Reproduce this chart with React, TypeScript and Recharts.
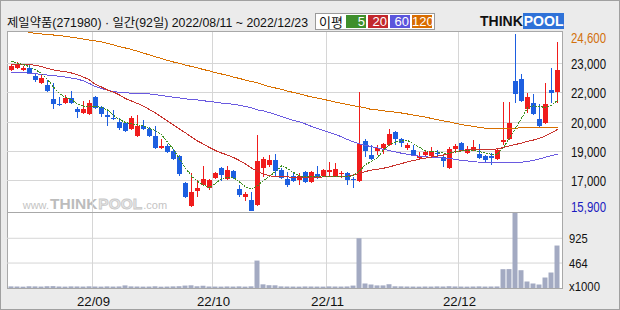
import React from "react";
import { ComposedChart, Bar, Line, XAxis, YAxis, CartesianGrid } from "recharts";

// 일봉 시가/고가/저가/종가 (2022/08/11 ~ 2022/12/23, 92 거래일)
const openPrices = [
  22850, 22950, 22850, 22950, 22550, 22200, 22100, 21400, 21150, 21200,
  21450, 20900, 20700, 20650, 21500, 21000, 20600, 20450, 20250, 20200,
  19900, 19600, 20050, 19900, 19600, 19000, 19100, 18850, 18600, 17250,
  16150, 16850, 17150, 17000, 17500, 18000, 17450, 17850, 16950, 16550,
  16450, 16200, 18000, 18150, 18400, 17900, 17450, 17600, 17400, 17800,
  17300, 17700, 17600, 17800, 17600, 17700, 17750, 17450, 17350, 19350,
  18650, 18850, 19000, 19150, 19750, 19450, 19000, 18900, 18500, 18650,
  18600, 18750, 18550, 18000, 18950, 19250, 18750, 18950, 18700, 18600,
  18600, 18450, 19300, 19450, 22300, 22400, 20900, 21200, 20400, 20200,
  21850, 21750,
];
const highPrices = [
  23100, 23200, 23000, 23100, 22650, 22600, 22350, 22200, 21500, 21600,
  21800, 21000, 21300, 21350, 21550, 21050, 20850, 20850, 20450, 20250,
  20550, 20600, 20350, 20000, 20050, 19450, 19200, 18950, 18650, 17300,
  17750, 17400, 18100, 17450, 17800, 18050, 18100, 17900, 17150, 16800,
  16800, 19650, 18550, 18650, 18700, 18000, 17800, 17800, 17750, 17850,
  17850, 18100, 17950, 18300, 18250, 17850, 17800, 17550, 21750, 19450,
  19150, 19150, 19250, 19900, 19800, 19500, 19250, 19150, 18800, 18900,
  19050, 18900, 18650, 19050, 19200, 19300, 19100, 19400, 19200, 18650,
  18750, 19000, 21250, 21250, 24600, 22650, 21700, 21650, 21150, 22200,
  22950, 24200,
];
const lowPrices = [
  22800, 22900, 22800, 22650, 22250, 22150, 21750, 20900, 21050, 21150,
  21150, 20450, 20650, 20600, 20900, 20500, 20050, 20350, 19850, 19750,
  19850, 19550, 19850, 19550, 18950, 18950, 18750, 18400, 17600, 16500,
  16100, 16550, 17100, 16900, 17450, 17350, 17400, 17450, 16550, 16400,
  15900, 16150, 17550, 18050, 17550, 17450, 17050, 17300, 17150, 17250,
  17250, 17450, 17550, 17550, 17550, 17500, 17150, 17000, 17300, 18550,
  18400, 18650, 18700, 19100, 19150, 19050, 18900, 18600, 18450, 18600,
  18550, 18600, 18050, 17950, 18750, 18850, 18700, 18850, 18450, 18250,
  18150, 18400, 19150, 19400, 21200, 21250, 20700, 20600, 20000, 20150,
  21200, 21200,
];
const closePrices = [
  23000, 23100, 22950, 22700, 22350, 22450, 21800, 21150, 21100, 21450,
  21200, 20750, 20900, 21200, 20950, 20650, 20500, 20400, 19950, 19800,
  20450, 20050, 19900, 19600, 19000, 19100, 18800, 18450, 17700, 16550,
  16800, 17000, 17450, 17400, 17750, 17650, 17900, 17500, 16650, 16700,
  15900, 18350, 18450, 18400, 17850, 17500, 17150, 17350, 17600, 17300,
  17800, 17500, 17900, 17900, 17950, 17750, 17400, 17400, 19200, 18850,
  18450, 19000, 19200, 19700, 19450, 19250, 19150, 18650, 18600, 18800,
  18850, 18700, 18350, 18950, 19100, 18900, 18950, 19050, 18500, 18400,
  18500, 18900, 19400, 20200, 21650, 21300, 21500, 20650, 20050, 21150,
  21700, 22850,
];
// 거래량 (천주)
const volumes = [
  30, 28, 25, 32, 30, 27, 33, 35, 28, 26, 30, 29, 27, 31, 28, 26, 30, 27, 29,
  48, 30, 28, 26, 27, 32, 25, 27, 30, 33,
  45, 50, 32, 42, 28, 27, 26, 29, 27, 30, 26, 31,
  510, 68, 52, 50,
  30, 28, 27, 26, 29, 28, 27, 26, 30, 28, 27, 29,
  45, 926, 84, 65, 48, 48, 70,
  32, 30, 28, 27, 26, 28, 27, 30, 28, 33, 29, 27, 26, 28, 30, 27, 28, 29,
  350, 352, 1395, 331, 121, 84, 65, 195, 288, 790,
];
// 이동평균
const ma5 = [
  23250, 23170, 23090, 22990, 22840, 22660, 22360, 21990, 21670, 21470,
  21380, 21150, 21050, 21030, 21050, 20980, 20860, 20590, 20390, 20240,
  20180, 20140, 20060, 19950, 19850, 19650, 19280, 18910, 18450, 18000,
  17610, 17340, 17160, 17040, 17240, 17480, 17560, 17530, 17310, 17070,
  16970, 17120, 17390, 17580, 17830, 18100, 17980, 17780, 17610, 17570,
  17570, 17570, 17570, 17580, 17590, 17590, 17580, 17630, 17850, 18170,
  18320, 18520, 18890, 19160, 19270, 19340, 19360, 19190, 19010, 18850,
  18790, 18790, 18740, 18740, 18800, 18840, 18860, 18880, 18810, 18730,
  18680, 18690, 19010, 19480, 19950, 20440, 20960, 21060, 21020, 20990,
  21100, 21330,
];
const ma20 = [
  23110, 23110, 23100, 23090, 23060, 23000, 22900, 22830, 22780, 22740,
  22680, 22590, 22480, 22340, 22110, 21990, 21840, 21740, 21600, 21420,
  21300, 21180, 21050, 20880, 20710, 20510, 20320, 20120, 19920, 19730,
  19530, 19330, 19180, 19010, 18860, 18740, 18640, 18520, 18370, 18200,
  18000, 17830, 17710, 17620, 17570, 17560, 17560, 17550, 17550, 17540,
  17540, 17550, 17560, 17570, 17570, 17580, 17600, 17660, 17740, 17830,
  17900, 17940, 17990, 18060, 18140, 18220, 18300, 18370, 18440, 18490,
  18540, 18590, 18640, 18710, 18810, 18860, 18890, 18910, 18920, 18920,
  18930, 18940, 19010, 19090, 19160, 19230, 19310, 19380, 19460, 19580,
  19730, 19900,
];
const ma60 = [
  22720, 22710, 22690, 22670, 22640, 22610, 22580, 22550, 22520, 22480,
  22430, 22380, 22290, 22160, 22010, 21920, 21830, 21770, 21730, 21700,
  21690, 21680, 21670, 21650, 21610, 21570, 21530, 21490, 21450, 21410,
  21370, 21350, 21310, 21280, 21240, 21200, 21170, 21140, 21090, 21030,
  20960, 20860, 20810, 20730, 20640, 20540, 20440, 20340, 20270, 20170,
  20050, 19950, 19850, 19750, 19650, 19540, 19400, 19290, 19190, 19120,
  19050, 18990, 18920, 18860, 18790, 18730, 18680, 18620, 18580, 18550,
  18530, 18510, 18490, 18470, 18420, 18380, 18350, 18310, 18290, 18270,
  18260, 18250, 18250, 18250, 18260, 18290, 18320, 18380, 18450, 18530,
  18610, 18690,
];
const ma120 = [
  24850, 24800, 24750, 24680, 24620, 24600, 24580, 24550, 24520, 24490,
  24440, 24400, 24350, 24300, 24260, 24210, 24140, 24060, 23980, 23910,
  23840, 23750, 23660, 23570, 23480, 23390, 23300, 23220, 23150, 23070,
  23000, 22930, 22850, 22780, 22700, 22630, 22560, 22480, 22410, 22330,
  22260, 22190, 22090, 22010, 21940, 21870, 21790, 21720, 21650, 21570,
  21500, 21440, 21380, 21320, 21250, 21190, 21130, 21070, 21020, 20960,
  20880, 20860, 20820, 20780, 20750, 20710, 20660, 20610, 20560, 20510,
  20440, 20380, 20320, 20270, 20200, 20140, 20090, 20050, 20000, 19960,
  19950, 19950, 19950, 19950, 19950, 20000, 20000, 20000, 20000, 20000,
  20000, 20000,
];

const monthStarts = [14, 34, 53, 75];
const monthLabels = ["22/09", "22/10", "22/11", "22/12"];
const priceGridValues = [23147, 21719, 20242, 18814, 17386];
const priceGridLabels = ["23,000", "22,000", "20,000", "19,000", "17,000"];
const priceMax = 24600;
const priceMin = 15900;
const volumeGridValues = [464, 925];
const volumeLabels = ["x1000", "464", "925"];
const legendItems = [
  { label: "5", color: "#3f8f2c" },
  { label: "20", color: "#c2282c" },
  { label: "60", color: "#5b55dc" },
  { label: "120", color: "#d86c00" },
];

const RED = "#f01c1c";
const BLUE = "#1d5fe0";
const GRID = "#d6d6d6";
const TICK_FONT = "'Liberation Sans', Arial, sans-serif";
const X_DOMAIN = [-0.75, 91.75];

const rows = closePrices.map((close, i) => ({
  i,
  open: openPrices[i],
  high: highPrices[i],
  low: lowPrices[i],
  close,
  vol: volumes[i],
  ma5: ma5[i],
  ma20: ma20[i],
  ma60: ma60[i],
  ma120: ma120[i],
}));

const monthTicks = monthStarts.map((m) => m - 0.5);
const priceTicks = [priceMax, ...priceGridValues, priceMin];
const priceLabels = ["24,600", ...priceGridLabels, "15,900"];
const volumeTicks = [0, ...volumeGridValues];

// 캔들 하나: 막대의 [저가, 고가] 범위로 위치를 받아 몸통/꼬리를 그림
function Candle(props: any) {
  const { x, y, width, height, payload } = props;
  if (x == null || payload == null) return null;
  const top = Math.min(y, y + height);
  const bottom = Math.max(y, y + height);
  const range = payload.high - payload.low || 1;
  const at = (v: number) => top + ((payload.high - v) / range) * (bottom - top);
  const color = payload.close >= payload.open ? RED : BLUE;
  const cx = Math.floor(x + width / 2);
  const bodyTop = Math.round(at(Math.max(payload.open, payload.close)));
  let bodyBottom = Math.round(at(Math.min(payload.open, payload.close)));
  if (bodyBottom - bodyTop < 1) bodyBottom = bodyTop + 1;
  return (
    <g>
      <rect x={cx} y={Math.round(top)} width={1} height={Math.max(1, Math.round(bottom) - Math.round(top))} fill={color} />
      <rect x={cx - 2} y={bodyTop} width={5} height={bodyBottom - bodyTop} fill={color} />
    </g>
  );
}

function PriceTick(props: any) {
  const { x, y, payload } = props;
  const k = priceTicks.indexOf(payload.value);
  const last = priceTicks.length - 1;
  const shift = k === 0 ? 4 : k === last ? -4 : 0;
  const color = k === 0 ? "#d2700c" : k === last ? "#1a1ac0" : "#111";
  return (
    <text x={x + 9} y={y + shift} dy="0.36em" textAnchor="start" fill={color} fontSize={14} fontFamily={TICK_FONT}
      textLength={35} lengthAdjust="spacingAndGlyphs">
      {priceLabels[k]}
    </text>
  );
}

function VolumeTick(props: any) {
  const { x, y, payload } = props;
  const k = volumeTicks.indexOf(payload.value);
  const label = volumeLabels[k];
  return (
    <text x={x + 7} y={y + (k === 0 ? -2 : 0)} dy="0.36em" textAnchor="start" fill="#111" fontSize={13} fontFamily={TICK_FONT}
      textLength={label.length * 6.2} lengthAdjust="spacingAndGlyphs">
      {label}
    </text>
  );
}

function MonthTick(props: any) {
  const { x, y, payload } = props;
  const k = monthTicks.indexOf(payload.value);
  return (
    <text x={x + 1} y={y + 13} dy="0.36em" textAnchor="middle" fill="#111" fontSize={13} fontFamily={TICK_FONT}
      textLength={33} lengthAdjust="spacingAndGlyphs">
      {monthLabels[k]}
    </text>
  );
}

const abs = (left: number, top: number): React.CSSProperties => ({ position: "absolute", left, top });

export default function App() {
  return (
    <div style={{ position: "absolute", left: 0, top: 0, width: 620, height: 310, background: "#ebebeb", overflow: "hidden" }}>
      {/* 차트 영역 바탕 */}
      <div style={{ ...abs(7, 31), width: 556, height: 258, background: "#fff", border: "1px solid #a8a8a8", boxSizing: "border-box" }} />

      {/* 워터마크 */}
      <svg width={620} height={310} style={abs(0, 0)}>
        <text x={22.7} y={209} fontFamily="'Liberation Sans', Arial">
          <tspan fontSize={11} fill="#c4c4c4">www.</tspan>
          <tspan fontSize={15.5} fontWeight="bold" fill="#bcbcbc" dx={1}>THINK</tspan>
          <tspan fontSize={15.5} fontWeight="bold" fill="#e6e6e6" stroke="#c8c8c8" strokeWidth={0.8} dx={1}>POOL</tspan>
          <tspan fontSize={11} fill="#c4c4c4" dx={1}>.com</tspan>
        </text>
      </svg>

      {/* 거래량 */}
      <div style={abs(0, 0)}>
        <ComposedChart width={620} height={310} data={rows} margin={{ top: 213, right: 0, bottom: 0, left: 7 }}>
          <CartesianGrid stroke={GRID} horizontalValues={volumeGridValues} verticalValues={monthTicks} />
          <XAxis dataKey="i" type="number" domain={X_DOMAIN} allowDataOverflow ticks={monthTicks} interval={0} height={22}
            axisLine={false} tickLine={false} tickSize={0} tickMargin={0} tick={MonthTick} />
          <YAxis orientation="right" width={58} domain={[0, 1395]} allowDataOverflow ticks={volumeTicks} interval={0}
            axisLine={false} tickLine={false} tickSize={0} tickMargin={0} tick={VolumeTick} />
          <Bar dataKey="vol" barSize={5} fill="#a3aac2" isAnimationActive={false} />
        </ComposedChart>
      </div>

      {/* 가격 */}
      <div style={abs(0, 0)}>
        <ComposedChart width={620} height={230} data={rows} margin={{ top: 32, right: 0, bottom: 18, left: 7 }}>
          <CartesianGrid stroke={GRID} horizontalValues={priceGridValues} verticalValues={monthTicks} />
          <XAxis dataKey="i" type="number" domain={X_DOMAIN} allowDataOverflow hide />
          <YAxis orientation="right" width={58} domain={[15835, 24698]} allowDataOverflow ticks={priceTicks} interval={0}
            axisLine={false} tickLine={false} tickSize={0} tickMargin={0} tick={PriceTick} />
          <Line dataKey="ma120" stroke="#d87000" strokeWidth={1} dot={false} activeDot={false} isAnimationActive={false} shapeRendering="crispEdges" />
          <Line dataKey="ma60" stroke="#6a5ae0" strokeWidth={1} dot={false} activeDot={false} isAnimationActive={false} shapeRendering="crispEdges" />
          <Line dataKey="ma20" stroke="#c8342e" strokeWidth={1} dot={false} activeDot={false} isAnimationActive={false} shapeRendering="crispEdges" />
          <Bar dataKey={(d: any) => [d.low, d.high]} barSize={5} shape={Candle} isAnimationActive={false} />
          <Line dataKey="ma5" stroke="#3c8f1e" strokeWidth={1} strokeDasharray="2 1" dot={false} activeDot={false} isAnimationActive={false} shapeRendering="crispEdges" />
        </ComposedChart>
      </div>

      {/* 가격/거래량 구분선 */}
      <div style={{ ...abs(7, 212), width: 556, height: 1, background: "#a8a8a8" }} />

      {/* 제목 */}
      <svg width={312} height={31} style={abs(0, 0)}>
        <text x={7} y={27} fontSize={12.5} fontFamily="'Liberation Sans', 'Noto Sans CJK KR', sans-serif" fill="#111"
          textLength={301} lengthAdjust="spacingAndGlyphs">
          제일약품(271980) · 일간(92일) 2022/08/11 ~ 2022/12/23
        </text>
      </svg>

      {/* 이평 범례 */}
      <div style={{ ...abs(315, 13), width: 120, height: 17, background: "#fff", border: "1px solid #9a9a9a", boxSizing: "border-box" }}>
        <span style={{ position: "absolute", left: 3, top: 0, fontSize: 13, lineHeight: "15px", fontFamily: "'Noto Sans CJK KR', sans-serif", color: "#111" }}>
          이평
        </span>
        {legendItems.map((item, k) => (
          <span
            key={item.label}
            style={{
              position: "absolute", left: 30 + k * 22, top: 1, width: 20, height: 13, background: item.color,
              color: "#fff", fontSize: 13, lineHeight: "13px", textAlign: "right", fontFamily: TICK_FONT,
              boxSizing: "border-box", paddingRight: 1,
            }}
          >
            {item.label}
          </span>
        ))}
      </div>

      {/* 로고 */}
      <div style={{ ...abs(480, 13), height: 16, fontFamily: "'Liberation Sans', Arial, sans-serif", fontWeight: 900, fontSize: 14, lineHeight: "16px", whiteSpace: "nowrap" }}>
        <span style={{ color: "#111" }}>THINK</span>
        <span style={{ color: "#fff", background: "#2f72d8", padding: "0 1px" }}>POOL</span>
      </div>

      {/* 바깥 테두리 */}
      <div style={{ ...abs(0, 0), width: 620, height: 310, border: "1px solid #a0a0a0", boxSizing: "border-box", pointerEvents: "none" }} />
    </div>
  );
}
